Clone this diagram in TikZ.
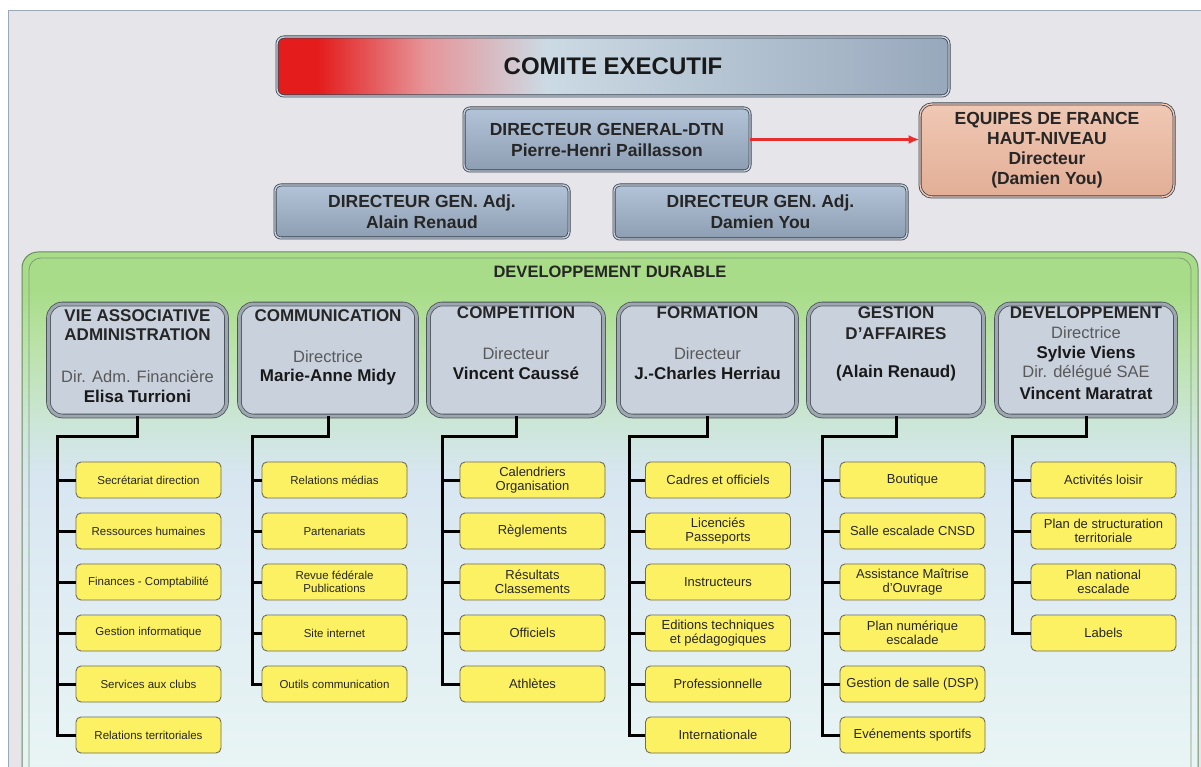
\documentclass[tikz,border=0pt]{standalone}
\usepackage{fontspec}
\setmainfont{Liberation Sans}
\usetikzlibrary{arrows.meta}
\definecolor{bgc}{HTML}{E6E6EA}
\definecolor{bgline}{HTML}{9AA8B8}
\definecolor{cred}{HTML}{E41C1C}
\definecolor{cpink}{HTML}{E69498}
\definecolor{clight}{HTML}{CCDAE4}
\definecolor{cgray}{HTML}{98A8BC}
\definecolor{steeltop}{HTML}{B4C4D8}
\definecolor{steelbot}{HTML}{8E9EB2}
\definecolor{steelbev}{HTML}{C4D0DC}
\definecolor{boxline}{HTML}{3C4450}
\definecolor{peachtop}{HTML}{F0C8B4}
\definecolor{peachbot}{HTML}{E2AE96}
\definecolor{pgreen}{HTML}{A8DC88}
\definecolor{pgreen2}{HTML}{B8E2A4}
\definecolor{pmix}{HTML}{CCE6D8}
\definecolor{pblue}{HTML}{D8E6F2}
\definecolor{pbot}{HTML}{EAF6F4}
\definecolor{panelline}{HTML}{6A8A60}
\definecolor{deptfill}{HTML}{C9D1DD}
\definecolor{deptline}{HTML}{4C545E}
\definecolor{deptbev}{HTML}{9EA6B0}
\definecolor{yel}{HTML}{FCF162}
\definecolor{yelline}{HTML}{6E6C58}
\definecolor{arrred}{HTML}{E62E2E}
\pgfdeclarehorizontalshading{comite}{100bp}{color(0bp)=(cred); color(28bp)=(cred); color(36bp)=(cpink); color(45bp)=(clight); color(75bp)=(cgray); color(100bp)=(cgray)}
\pgfdeclareverticalshading{panel}{100bp}{color(0bp)=(pbot); color(25bp)=(pbot); color(54bp)=(pblue); color(59bp)=(pmix); color(67bp)=(pgreen2); color(71.5bp)=(pgreen); color(100bp)=(pgreen)}
\begin{document}
\begin{tikzpicture}[x=1pt,y=-1pt,
  topbox/.style={draw=boxline, line width=0.8pt, double=steelbev, double distance=1.4pt, rounded corners=6pt, top color=steeltop, bottom color=steelbot, font=\fontsize{17.5}{21}\selectfont\bfseries, text=black!85, align=center, inner sep=0pt},
  eqbox/.style={draw=boxline, line width=0.8pt, double=peachtop, double distance=1.4pt, rounded corners=12pt, top color=peachtop, bottom color=peachbot, font=\fontsize{17.5}{20}\selectfont\bfseries, text=black!85, align=center, inner sep=0pt},
  comitebox/.style={draw=boxline, line width=0.8pt, double=clight, double distance=1.4pt, rounded corners=7pt, shading=comite, font=\fontsize{24}{28}\selectfont\bfseries, text=black!90, inner sep=0pt},
  panelbox/.style={draw=panelline, line width=1pt, rounded corners=16pt, shading=panel, inner sep=0pt},
  deptbox/.style={draw=deptline, line width=0.8pt, double=deptbev, double distance=3pt, rounded corners=14pt, fill=deptfill, minimum height=112, inner sep=0pt},
  dtitle/.style={font=\fontsize{17}{19}\selectfont\bfseries, text=black!85, inner sep=0pt},
  drole/.style={font=\fontsize{16.5}{19}\selectfont, text=black!65, inner sep=0pt},
  dname/.style={font=\fontsize{17}{19}\selectfont\bfseries, text=black!90, inner sep=0pt},
  childbox/.style={draw=yelline, line width=0.9pt, rounded corners=5pt, fill=yel, minimum width=145, minimum height=36, align=center, inner sep=0pt, text=black!85},
  smallc/.style={font=\fontsize{11.5}{13}\selectfont},
  bigc/.style={font=\fontsize{13}{14}\selectfont},
  conn/.style={draw=black, line width=3pt},
]
\useasboundingbox (0,0) rectangle (1201,767);
\clip (0,0) rectangle (1201,767);
\fill[white] (0,0) rectangle (1201,767);
\draw[fill=bgc, draw=bgline, line width=1pt] (8,11) rectangle (1215,790);

% top boxes
\node[comitebox, minimum width=672, minimum height=59] (comite) at (613,66.5) {COMITE EXECUTIF};
\node[topbox, minimum width=286, minimum height=63] (dg) at (607,139.5) {DIRECTEUR GENERAL-DTN\\Pierre-Henri Paillasson};
\node[eqbox, minimum width=254, minimum height=93] (eq) at (1047,150.5) {EQUIPES DE FRANCE\\HAUT-NIVEAU\\Directeur\\(Damien You)};
\node[topbox, minimum width=294, minimum height=53] (adj1) at (422,211.5) {DIRECTEUR GEN. Adj.\\Alain Renaud};
\node[topbox, minimum width=293, minimum height=54] (adj2) at (760.5,212) {DIRECTEUR GEN. Adj.\\Damien You};
\draw[arrred, line width=2.2pt, -{Latex[length=11pt,width=9pt]}] (dg.east) -- (dg.east -| eq.west);

% panel
\node[panelbox, minimum width=1176, minimum height=538] (panel) at (610,521) {};
\draw[panelline!85, line width=0.8pt, rounded corners=12pt] (29,258) rectangle (1191,800);
\node[font=\fontsize{16.5}{19}\selectfont\bfseries, text=black!85] (dd) at (610,272) {DEVELOPPEMENT DURABLE};

% department boxes
\node[deptbox, minimum width=178] (p1) at (137.5,360) {};
\node[deptbox, minimum width=177] (p2) at (328,360) {};
\node[deptbox, minimum width=175] (p3) at (516,360) {};
\node[deptbox, minimum width=178] (p4) at (707.5,360) {};
\node[deptbox, minimum width=175] (p5) at (896,360) {};
\node[deptbox, minimum width=179] (p6) at (1086,360) {};

\node[dtitle] (p1a) at (137.5,316) {VIE ASSOCIATIVE};
\node[dtitle] (p1b) at (137.5,335) {ADMINISTRATION};
\node[drole]  (p1c) at (137.5,377) {Dir. Adm. Financière};
\node[dname]  (p1d) at (137.5,396) {Elisa Turrioni};

\node[dtitle] (p2a) at (328,316) {COMMUNICATION};
\node[drole]  (p2b) at (328,357) {Directrice};
\node[dname]  (p2c) at (328,377) {Marie-Anne Midy};

\node[dtitle] (p3a) at (516,313) {COMPETITION};
\node[drole]  (p3b) at (516,354) {Directeur};
\node[dname]  (p3c) at (516,373) {Vincent Caussé};

\node[dtitle] (p4a) at (707.5,313) {FORMATION};
\node[drole]  (p4b) at (707.5,354) {Directeur};
\node[dname]  (p4c) at (707.5,373) {J.-Charles Herriau};

\node[dtitle] (p5a) at (896,313) {GESTION};
\node[dtitle] (p5b) at (896,334) {D'AFFAIRES};
\node[dname]  (p5c) at (896,373) {(Alain Renaud)};

\node[dtitle] (p6a) at (1086,313) {DEVELOPPEMENT};
\node[drole]  (p6b) at (1086,333) {Directrice};
\node[dname]  (p6c) at (1086,354) {Sylvie Viens};
\node[drole]  (p6d) at (1086,373) {Dir. délégué SAE};
\node[dname]  (p6e) at (1086,393) {Vincent Maratrat};

% children
\foreach \t [count=\i] in {Secrétariat direction, Ressources humaines, Finances - Comptabilité, Gestion informatique, Services aux clubs, Relations territoriales}
  \node[childbox, smallc] (a\i) at (148.5,{429+51*\i}) {\t};
\foreach \t [count=\i] in {Relations médias, Partenariats, {Revue fédérale\\Publications}, Site internet, Outils communication}
  \node[childbox, smallc] (b\i) at (334.5,{429+51*\i}) {\t};
\foreach \t [count=\i] in {{Calendriers\\Organisation}, Règlements, {Résultats\\Classements}, Officiels, Athlètes}
  \node[childbox, bigc] (c\i) at (532.5,{429+51*\i}) {\t};
\foreach \t [count=\i] in {Cadres et officiels, {Licenciés\\Passeports}, Instructeurs, {Editions techniques\\et pédagogiques}, Professionnelle, Internationale}
  \node[childbox, bigc] (d\i) at (718,{429+51*\i}) {\t};
\foreach \t [count=\i] in {Boutique, Salle escalade CNSD, {Assistance Maîtrise\\d'Ouvrage}, {Plan numérique\\escalade}, Gestion de salle (DSP), Evénements sportifs}
  \node[childbox, bigc] (e\i) at (912.5,{429+51*\i}) {\t};
\foreach \t [count=\i] in {Activités loisir, {Plan de structuration\\territoriale}, {Plan national\\escalade}, Labels}
  \node[childbox, bigc] (f\i) at (1103.5,{429+51*\i}) {\t};

% connectors
\coordinate (t1) at (57,436);
\coordinate (t2) at (252,436);
\coordinate (t3) at (442,436);
\coordinate (t4) at (629,436);
\coordinate (t5) at (822,436);
\coordinate (t6) at (1012,436);
\draw[conn] (p1.south) |- (t1) |- (a6.west);
\draw[conn] (p2.south) |- (t2) |- (b5.west);
\draw[conn] (p3.south) |- (t3) |- (c5.west);
\draw[conn] (p4.south) |- (t4) |- (d6.west);
\draw[conn] (p5.south) |- (t5) |- (e6.west);
\draw[conn] (p6.south) |- (t6) |- (f4.west);
\foreach \i in {1,...,5} \draw[conn] (t1 |- a\i.west) -- (a\i.west);
\foreach \i in {1,...,4} \draw[conn] (t2 |- b\i.west) -- (b\i.west);
\foreach \i in {1,...,4} \draw[conn] (t3 |- c\i.west) -- (c\i.west);
\foreach \i in {1,...,5} \draw[conn] (t4 |- d\i.west) -- (d\i.west);
\foreach \i in {1,...,5} \draw[conn] (t5 |- e\i.west) -- (e\i.west);
\foreach \i in {1,...,3} \draw[conn] (t6 |- f\i.west) -- (f\i.west);
\end{tikzpicture}
\end{document}
